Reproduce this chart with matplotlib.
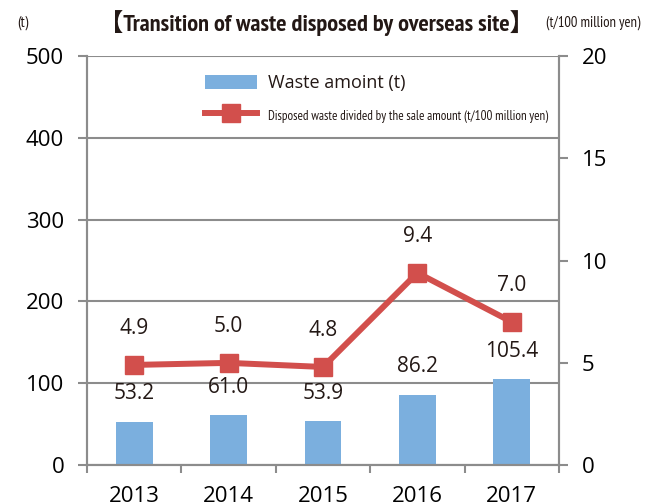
import matplotlib
matplotlib.use("Agg")
import matplotlib.pyplot as plt
import numpy as np

years = ["2013", "2014", "2015", "2016", "2017"]
waste_t = [53.2, 61.0, 53.9, 86.2, 105.4]
waste_per_sales = [4.9, 5.0, 4.8, 9.4, 7.0]

BAR_COLOR = "#7BAFDE"
LINE_COLOR = "#D24F4C"
GRID_COLOR = "#8C8C8C"
TEXT_COLOR = "#231815"
NARROW = ["PT Sans Narrow", "Roboto Condensed", "Archivo Narrow", "Noto Sans CJK JP", "DejaVu Sans"]

plt.rcParams["font.family"] = ["Open Sans", "DejaVu Sans"]
plt.rcParams["text.color"] = TEXT_COLOR

fig = plt.figure(figsize=(6.5, 5.04), dpi=100)
ax = fig.add_axes([0.134, 0.077, 0.726, 0.812])
ax2 = ax.twinx()

x = np.arange(len(years))
bars = ax.bar(x, waste_t, width=0.39, color=BAR_COLOR, label="Waste amoint (t)", zorder=2)
line, = ax2.plot(x, waste_per_sales, color=LINE_COLOR, lw=4.3, marker="s", ms=13.5,
                 label="Disposed waste divided by the sale amount (t/100 million yen)", zorder=3)

# value labels
for xi, v in zip(x, waste_t):
    ax.annotate(f"{v:.1f}", (xi, v), xytext=(0, 20), textcoords="offset points",
                ha="center", va="center", fontsize=15, color=TEXT_COLOR)
for xi, v in zip(x, waste_per_sales):
    ax2.annotate(f"{v:.1f}", (xi, v), xytext=(0, 26), textcoords="offset points",
                 ha="center", va="center", fontsize=15, color=TEXT_COLOR)

ax.set_xlim(-0.5, len(years) - 0.5)
ax.set_ylim(0, 500)
ax2.set_ylim(0, 20)
ax.set_yticks(np.arange(0, 501, 100))
ax2.set_yticks(np.arange(0, 21, 5))

ax.set_xticks(x)
ax.set_xticklabels(years, fontsize=16)
ax.set_xticks(np.arange(-0.5, len(years)), minor=True)
ax.tick_params(axis="x", which="major", length=0, pad=15)
ax.tick_params(axis="x", which="minor", length=6, width=1.5, color=GRID_COLOR, direction="out")
ax.tick_params(axis="y", length=6.5, width=1.5, color=GRID_COLOR, labelsize=16, pad=10)
ax2.tick_params(axis="y", length=6.5, width=1.5, color=GRID_COLOR, labelsize=16, pad=10)

ax.yaxis.grid(True, color=GRID_COLOR, lw=1.5, zorder=0)
ax.set_axisbelow(True)
for a in (ax, ax2):
    for s in a.spines.values():
        s.set_color(GRID_COLOR)
        s.set_linewidth(1.5)
    a.spines["top"].set_visible(False)

leg = ax.legend([bars, line], [bars.get_label(), line.get_label()],
                loc="upper left", bbox_to_anchor=(0.25, 0.955), frameon=False,
                fontsize=13, handlelength=2.9, handleheight=0.78, labelspacing=0.8,
                handletextpad=0.6, borderpad=0, borderaxespad=0)
leg.get_texts()[1].set_fontfamily(NARROW)
leg.get_texts()[1].set_fontsize(9.4)
leg.set_zorder(5)

fig.text(0.027, 0.955, "(t)", fontsize=11, family=NARROW, ha="left", va="center")
fig.text(0.487, 0.955, "【Transition of waste disposed by overseas site】", fontsize=17.5,
         fontweight="bold", family=NARROW, ha="center", va="center")
fig.text(0.985, 0.955, "(t/100 million yen)", fontsize=10.5, family=NARROW, ha="right", va="center")

fig.savefig("out.png", dpi=100)
